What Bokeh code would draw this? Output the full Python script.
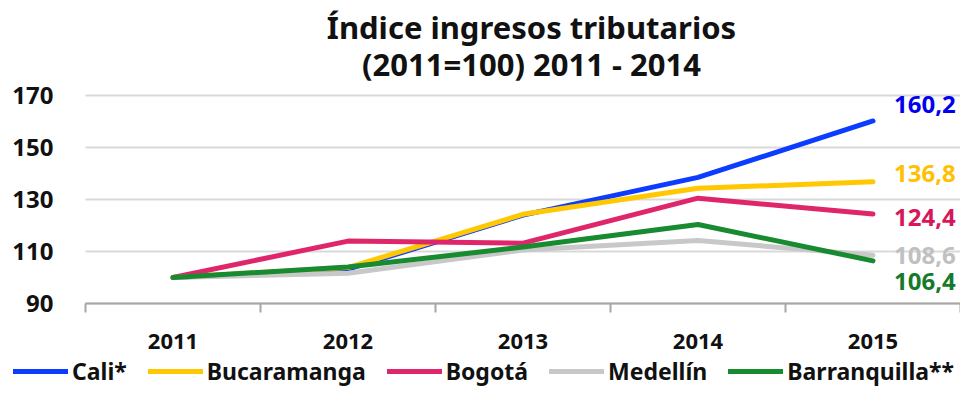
from bokeh.plotting import figure
from bokeh.models import (ColumnDataSource, FixedTicker, Legend, LegendItem, Range1d, Label)
from bokeh.embed import file_html
from bokeh.resources import INLINE
from bokeh.core.properties import value

# ---- data ----
years = ["2011", "2012", "2013", "2014", "2015"]
series_names = ["Cali*", "Bucaramanga", "Bogotá", "Medellín", "Barranquilla**"]
cali = [100.0, 103.2, 124.0, 138.5, 160.2]
bucaramanga = [100.0, 103.8, 124.3, 134.3, 136.8]
bogota = [100.0, 114.0, 113.2, 130.5, 124.4]
medellin = [100.0, 101.6, 110.6, 114.2, 108.6]
barranquilla = [100.0, 104.0, 111.7, 120.4, 106.4]
y_ticks = [90, 110, 130, 150, 170]
end_labels = ["160,2", "136,8", "124,4", "108,6", "106,4"]
title_lines = ["Índice ingresos tributarios", "(2011=100) 2011 - 2014"]

# ---- styles / layout (pixels) ----
W, H = 960, 387
PLOT_L, PLOT_R, PLOT_T, PLOT_B = 85, 960, 95, 303   # data area in pixels
line_colors = ["#0b3cff", "#ffc800", "#e0266a", "#c8c8c8", "#188a30"]
label_colors = ["#0000ee", "#ffc000", "#d6175a", "#c0c0c0", "#167a2a"]
label_dy = [-16, -8, 3, 0, 21]
FONT = "Noto Sans"

all_series = [cali, bucaramanga, bogota, medellin, barranquilla]
n = len(years)
xs = [i + 0.5 for i in range(n)]

# ranges chosen so that the data area sits at PLOT_* while the frame fills the canvas
y_lo, y_hi = y_ticks[0], y_ticks[-1]
ppu_y = (PLOT_B - PLOT_T) / (y_hi - y_lo)
ppu_x = (PLOT_R - PLOT_L) / n
x_range = Range1d(-PLOT_L / ppu_x, n + (W - PLOT_R) / ppu_x)
y_range = Range1d(y_lo - (H - PLOT_B) / ppu_y, y_hi + PLOT_T / ppu_y)

p = figure(width=W, height=H, output_backend="svg", toolbar_location=None,
           x_range=x_range, y_range=y_range, title=None,
           min_border_left=0, min_border_right=0, min_border_top=0,
           min_border_bottom=0)
p.outline_line_color = None
p.background_fill_color = "white"
p.border_fill_color = "white"

# grid lines limited to the data area
p.xgrid.grid_line_color = None
p.ygrid.grid_line_color = "#d9d9d9"
p.ygrid.grid_line_width = 2
p.ygrid.ticker = FixedTicker(ticks=y_ticks)
try:
    p.ygrid.cross_bounds = (0, n)
except Exception:
    pass

renderers = []
for vals, col in zip(all_series, line_colors):
    r = p.line(xs, vals, line_color=col, line_width=5, line_cap="round",
               line_join="round")
    renderers.append(r)

src = ColumnDataSource(dict(x=[xs[-1]] * len(end_labels),
                            y=[s[-1] for s in all_series],
                            t=end_labels, c=label_colors, dy=label_dy))
p.text(x="x", y="y", text="t", text_color="c", y_offset="dy", x_offset=21,
       source=src, text_font=value(FONT), text_font_size="24px",
       text_font_style="bold", text_align="left", text_baseline="middle")

# x axis
xa = p.xaxis[0]
xa.fixed_location = y_lo
xa.bounds = (0, n)
xa.ticker = FixedTicker(ticks=xs, minor_ticks=list(range(n + 1)))
xa.major_label_overrides = {x: y for x, y in zip(xs, years)}
xa.axis_line_color = "#a6a6a6"
xa.axis_line_width = 2
xa.major_tick_line_color = None
xa.major_tick_out = 0
xa.major_tick_in = 0
xa.minor_tick_line_color = "#a6a6a6"
xa.minor_tick_line_width = 2
xa.minor_tick_out = 9
xa.minor_tick_in = 0
xa.major_label_standoff = 21
xa.major_label_text_font = FONT
xa.major_label_text_font_size = "22px"
xa.major_label_text_font_style = "bold"
xa.major_label_text_color = "#111111"

# y axis
ya = p.yaxis[0]
ya.fixed_location = 0
ya.ticker = FixedTicker(ticks=y_ticks)
ya.axis_line_color = None
ya.major_tick_line_color = None
ya.minor_tick_line_color = None
ya.major_tick_out = 0
ya.major_label_standoff = 32
ya.major_label_text_font = FONT
ya.major_label_text_font_size = "24px"
ya.major_label_text_font_style = "bold"
ya.major_label_text_color = "#111111"

# title (two centred lines)
for txt, base in zip(title_lines, [26, 63]):
    p.add_layout(Label(x=531, y=H - base, x_units="screen", y_units="screen",
                       text=txt, text_align="center", text_baseline="alphabetic",
                       text_font=FONT, text_font_size="31px",
                       text_font_style="bold", text_color="#111111"))

legend = Legend(items=[LegendItem(label=nm, renderers=[r]) for nm, r in zip(series_names, renderers)],
                orientation="horizontal", location=(13, 0),
                glyph_width=55, glyph_height=20, label_standoff=4, spacing=21,
                padding=0, margin=0, border_line_color=None,
                background_fill_alpha=0, label_text_font=FONT,
                label_text_font_size="23px", label_text_font_style="bold",
                label_text_color="#111111", label_height=20)
p.add_layout(legend, "center")

open("out.html", "w").write(file_html(p, INLINE))
